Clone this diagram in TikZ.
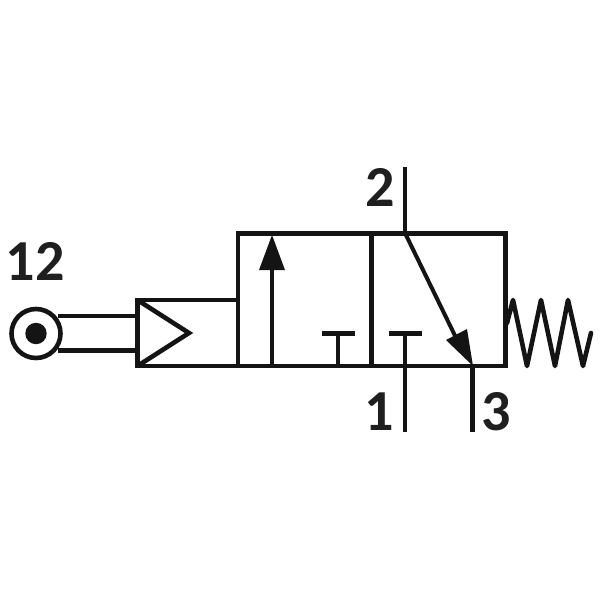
\documentclass[tikz,border=0pt]{standalone}
\usepackage{fontspec}
\setmainfont{Carlito}
\begin{document}
\begin{tikzpicture}[x=1pt,y=-1pt,
  ln/.style={line width=4.6pt,draw=black!92},
  thin/.style={line width=4pt,draw=black!92},
  lbl/.style={font=\fontsize{58}{58}\selectfont\bfseries,inner sep=0pt,text=black!88}]
\useasboundingbox (0,0) rectangle (600,600);
\fill[white] (0,0) rectangle (600,600);
\node[lbl] (t12) at (35,261) {12};
\node[lbl] (t2) at (380,187) {2};
\node[lbl] (t1) at (379,411.5) {1};
\node[lbl] (t3) at (496,412) {3};
% valve body
\draw[ln,line join=miter] (238,233.5) rectangle (505.5,366);
\draw[ln] (371.5,233.5) -- (371.5,366);
% pilot housing
\draw[ln,line join=miter] (238,300) -- (137.5,300) -- (137.5,366) -- (238,366);
\draw[ln,line join=miter] (139,301) -- (189,333) -- (139,365);
% roller and stem
\draw[ln] (36,333.5) circle (24.5);
\fill[black!92] (36,333.5) circle (10.7);
\draw[ln] (58,316) -- (137,316);
\draw[ln] (58,350.5) -- (137,350.5);
% left flow arrow
\draw[ln] (272,366) -- (272,250);
\fill[black!92] (272,235) -- (285,270) -- (259,270) -- cycle;
% blocked ports
\draw[thin] (338,366) -- (338,333);
\draw[ln] (322,333.5) -- (355,333.5);
\draw[thin] (405,333) -- (405,432);
\draw[ln] (389,333.5) -- (422,333.5);
% ports and right flow arrow
\draw[thin] (405,167) -- (405,233);
\draw[thin] (405,233) -- (462,350);
\fill[black!92] (473,366) -- (446,340) -- (467,329) -- cycle;
\draw[ln] (472.5,366) -- (472.5,432);
% spring
\draw[ln,line join=round,line cap=round] (507,323) -- (513,300) -- (527,366) -- (541,300) -- (555,366) -- (568,300) -- (583,366) -- (591,333);
\end{tikzpicture}
\end{document}
